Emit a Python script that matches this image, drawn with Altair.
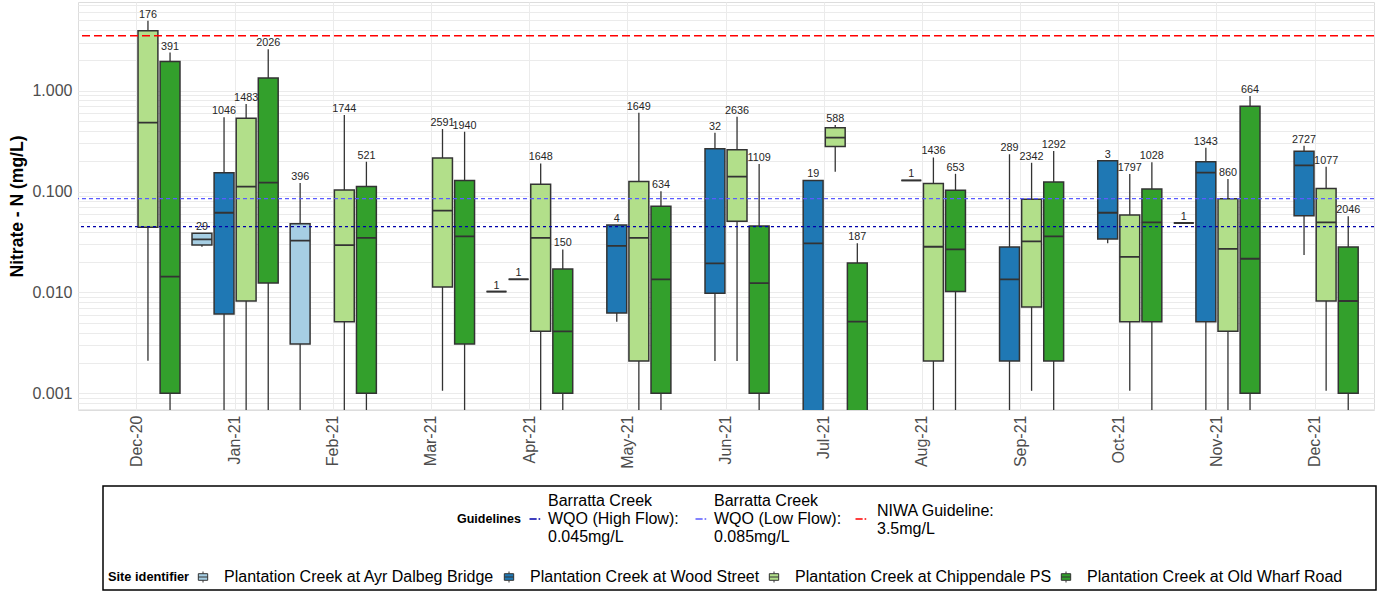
import altair as alt
import pandas as pd

# ---- categories -------------------------------------------------------------
months = ["Dec-20", "Jan-21", "Feb-21", "Mar-21", "Apr-21", "May-21", "Jun-21",
          "Jul-21", "Aug-21", "Sep-21", "Oct-21", "Nov-21", "Dec-21"]

site_codes = ["A", "W", "C", "O"]
site_names = ["Plantation Creek at Ayr Dalbeg Bridge",
              "Plantation Creek at Wood Street",
              "Plantation Creek at Chippendale PS",
              "Plantation Creek at Old Wharf Road"]
site_colours = ["#A6CEE3", "#1F78B4", "#B2DF8A", "#33A02C"]

# ---- box statistics per month and site (mg/L) --------------------------------
rec_month = ["Dec-20", "Dec-20",
             "Jan-21", "Jan-21", "Jan-21", "Jan-21",
             "Feb-21", "Feb-21", "Feb-21",
             "Mar-21", "Mar-21",
             "Apr-21", "Apr-21", "Apr-21", "Apr-21",
             "May-21", "May-21", "May-21",
             "Jun-21", "Jun-21", "Jun-21",
             "Jul-21", "Jul-21", "Jul-21",
             "Aug-21", "Aug-21", "Aug-21",
             "Sep-21", "Sep-21", "Sep-21",
             "Oct-21", "Oct-21", "Oct-21",
             "Nov-21", "Nov-21", "Nov-21", "Nov-21",
             "Dec-21", "Dec-21", "Dec-21"]
rec_site = ["C", "O",
            "A", "W", "C", "O",
            "A", "C", "O",
            "C", "O",
            "A", "W", "C", "O",
            "W", "C", "O",
            "W", "C", "O",
            "W", "C", "O",
            "W", "C", "O",
            "W", "C", "O",
            "W", "C", "O",
            "A", "W", "C", "O",
            "W", "C", "O"]
w_lo = [0.00211, 0.0005,
        0.0284, 0.0005, 0.0005, 0.0005,
        0.0005, 0.0005, 0.0005,
        0.00106, 0.0005,
        0.0102, 0.0135, 0.0005, 0.0005,
        0.00513, 0.0005, 0.0005,
        0.00209, 0.00209, 0.0005,
        0.0005, 0.157, 0.0005,
        0.129, 0.0005, 0.0005,
        0.0005, 0.00106, 0.0005,
        0.0307, 0.00106, 0.0005,
        0.0488, 0.0005, 0.0005, 0.0005,
        0.0235, 0.00106, 0.0005]
q1 = [0.0442, 0.001,
      0.0295, 0.00612, 0.00823, 0.0124,
      0.00308, 0.00513, 0.001,
      0.0113, 0.00308,
      0.0102, 0.0135, 0.00412, 0.001,
      0.00625, 0.00209, 0.001,
      0.0098, 0.0507, 0.001,
      0.0005, 0.279, 0.0005,
      0.129, 0.00209, 0.0102,
      0.00209, 0.00718, 0.00209,
      0.0339, 0.00513, 0.00513,
      0.0488, 0.00513, 0.00412, 0.001,
      0.0577, 0.00823, 0.001]
med = [0.482, 0.01435,
       0.0336, 0.0617, 0.112, 0.1225,
       0.0326, 0.0295, 0.0347,
       0.0647, 0.036,
       0.0102, 0.0135, 0.0347, 0.00412,
       0.0289, 0.0347, 0.0135,
       0.0194, 0.1405, 0.0124,
       0.0307, 0.342, 0.00513,
       0.129, 0.0284, 0.0268,
       0.0135, 0.0321, 0.036,
       0.0617, 0.0225, 0.0496,
       0.0488, 0.154, 0.027, 0.0216,
       0.182, 0.0496, 0.00823]
q3 = [3.93, 1.95,
      0.0386, 0.154, 0.532, 1.336,
      0.0481, 0.1037, 0.112,
      0.215, 0.129,
      0.0102, 0.0135, 0.118, 0.0171,
      0.0467, 0.126, 0.0714,
      0.266, 0.26, 0.0456,
      0.129, 0.43, 0.0196,
      0.129, 0.12, 0.1028,
      0.0282, 0.0838, 0.1244,
      0.202, 0.0586, 0.106,
      0.0488, 0.198, 0.085, 0.70,
      0.2505, 0.107, 0.0282]
w_hi = [4.94, 2.39,
        0.0386, 0.544, 0.738, 2.57,
        0.1216, 0.574, 0.198,
        0.417, 0.392,
        0.0102, 0.0135, 0.19, 0.0267,
        0.0467, 0.605, 0.101,
        0.383, 0.552, 0.1876,
        0.129, 0.457, 0.0307,
        0.129, 0.218, 0.150,
        0.234, 0.193, 0.252,
        0.202, 0.149, 0.195,
        0.0488, 0.272, 0.133, 0.885,
        0.285, 0.1766, 0.0569]
n_obs = [176, 391,
         29, 1046, 1483, 2026,
         396, 1744, 521,
         2591, 1940,
         1, 1, 1648, 150,
         4, 1649, 634,
         32, 2636, 1109,
         19, 588, 187,
         1, 1436, 653,
         289, 2342, 1292,
         3, 1797, 1028,
         1, 1343, 860, 664,
         2727, 1077, 2046]

# ---- guideline levels ----------------------------------------------------------
guide_names = ["Barratta Creek|WQO (High Flow):|0.045mg/L",
               "Barratta Creek|WQO (Low Flow):|0.085mg/L",
               "NIWA Guideline:|3.5mg/L"]
guide_values = [0.045, 0.085, 3.5]
guide_colours = ["#0000AA", "#5B5BFF", "#FF0000"]
guide_dashes = [[3, 3], [4, 3], [8, 4]]
guide_widths = [1.2, 1.2, 1.6]

# y-axis grid positions (labels shown on the decades only)
y_ticks = [0.0007, 0.0008, 0.0009,
           0.001, 0.002, 0.003, 0.004, 0.005, 0.006, 0.007, 0.008, 0.009,
           0.01, 0.02, 0.03, 0.04, 0.05, 0.06, 0.07, 0.08, 0.09,
           0.1, 0.2, 0.3, 0.4, 0.5, 0.6, 0.7, 0.8, 0.9,
           1, 2, 3, 4, 5, 6, 7]
y_domain = [0.000684, 7.57]

FONT = "Liberation Sans"
code_to_name = dict(zip(site_codes, site_names))

boxes = pd.DataFrame({
    "month": rec_month,
    "site": [code_to_name[c] for c in rec_site],
    "lo": w_lo, "q1": q1, "med": med, "q3": q3, "hi": w_hi, "n": n_obs,
})

y_scale = alt.Scale(type="log", domain=y_domain)
y_axis = alt.Axis(
    values=y_ticks,
    labelExpr="abs(log(datum.value)/LN10 - round(log(datum.value)/LN10)) < 1e-6 ? format(datum.value, '.3f') : ''",
    labelOverlap=False, labelFlush=False,
    grid=True, gridColor="#EBEBEB", gridWidth=1,
    domain=False, ticks=False,
    labelFontSize=16, labelColor="#4D4D4D", labelFont=FONT, labelPadding=6,
    titleFontSize=17.5, titleFontWeight="bold", titleColor="black", titleFont=FONT,
    titlePadding=5,
)
Y_TITLE = "Nitrate - N (mg/L)"


def y_enc(field):
    return alt.Y(field, type="quantitative", scale=y_scale, axis=y_axis, title=Y_TITLE)


x_enc = alt.X(
    "month:N", sort=months,
    scale=alt.Scale(domain=months, paddingInner=0, paddingOuter=0.1),
    axis=alt.Axis(
        title="", labelAngle=270, labelFontSize=16, labelColor="#4D4D4D",
        labelFont=FONT, labelPadding=5, domain=False, ticks=False,
        grid=True, gridColor="#EBEBEB", gridWidth=1, bandPosition=0.5,
    ),
)
xo_enc = alt.XOffset(
    "site:N",
    scale=alt.Scale(domain=site_names, paddingInner=0.1, paddingOuter=0.272),
)

# legend key shapes (unit square scaled by sqrt(symbolSize)/2)
box_symbol = "M0,-1V-0.6M-0.85,-0.6H0.85V0.6H-0.85ZM-0.85,0H0.85M0,0.6V1"
# dash-dot key, dropped onto the middle line of a three-line label
dashdot_3line = "M-1,3.27H0.3M0.65,3.27H0.95"
# dash-dot key, between the two lines of a two-line label
dashdot_2line = "M-1,1.45H0.3M0.65,1.45H0.95"

site_legend = alt.Legend(
    title="Site identifier", orient="none", legendX=30, legendY=567,
    direction="horizontal", titleOrient="left", titleAnchor="middle",
    titleBaseline="middle",
    titleFont=FONT, titleFontSize=12.8, titleFontWeight="bold", titleColor="black",
    titlePadding=5,
    labelFont=FONT, labelFontSize=16, labelColor="black", labelLimit=0,
    labelOffset=13, columnPadding=6,
    symbolType=box_symbol, symbolSize=121, symbolStrokeColor="#333333",
    symbolStrokeWidth=1,
)

wqo_legend = alt.Legend(
    title="Guidelines", orient="none", legendX=379, legendY=491,
    direction="horizontal", titleOrient="left", titleAnchor="middle",
    titleBaseline="middle",
    titleFont=FONT, titleFontSize=12.5, titleFontWeight="bold", titleColor="black",
    titlePadding=6,
    labelFont=FONT, labelFontSize=16, labelColor="black", labelLimit=0,
    labelExpr="split(datum.label, '|')",
    labelOffset=5, columnPadding=13,
    symbolType=dashdot_3line, symbolSize=121, symbolStrokeWidth=1.5,
    symbolFillColor="transparent", symbolDash=[100, 0],
)

niwa_legend = alt.Legend(
    title="", orient="none", legendX=775, legendY=501,
    direction="horizontal",
    labelFont=FONT, labelFontSize=16, labelColor="black", labelLimit=0,
    labelExpr="split(datum.label, '|')",
    labelOffset=8,
    symbolType=dashdot_2line, symbolSize=121, symbolStrokeWidth=1.5,
    symbolFillColor="transparent", symbolDash=[100, 0],
)

base = alt.Chart(boxes)

whiskers = base.mark_rule(color="#333333", strokeWidth=1.3, clip=True).encode(
    x=x_enc, xOffset=xo_enc, y=y_enc("lo"), y2=alt.Y2("hi"),
)

box_body = base.mark_bar(stroke="#333333", strokeWidth=1.5, clip=True).encode(
    x=x_enc, xOffset=xo_enc, y=y_enc("q1"), y2=alt.Y2("q3"),
    fill=alt.Fill("site:N", scale=alt.Scale(domain=site_names, range=site_colours),
                  legend=site_legend),
)

medians = base.mark_bar(fill="transparent", stroke="#333333", strokeWidth=1.8,
                        clip=True).encode(
    x=x_enc, xOffset=xo_enc, y=y_enc("med"), y2=alt.Y2("med"),
)

counts = base.mark_text(font=FONT, fontSize=10.8, color="#262626",
                        baseline="middle", dy=-6).encode(
    x=x_enc, xOffset=xo_enc, y=y_enc("hi"), text="n:Q",
)

# water-quality objectives (blue) share one legend
wqo_scale = alt.Scale(domain=guide_names[:2], range=guide_colours[:2])
guide_layers = []
for name, value, dash, width in zip(guide_names[:2], guide_values[:2],
                                    guide_dashes[:2], guide_widths[:2]):
    guide_layers.append(
        alt.Chart(pd.DataFrame({"guideline": [name], "value": [value]}))
        .mark_rule(strokeDash=dash, strokeWidth=width)
        .encode(
            y=y_enc("value"),
            stroke=alt.Stroke("guideline:N", scale=wqo_scale, legend=wqo_legend),
        )
    )

# NIWA guideline (red)
niwa_rule = alt.Chart(
    pd.DataFrame({"niwa": [guide_names[2]], "value": [guide_values[2]]})
).mark_rule(strokeDash=guide_dashes[2], strokeWidth=guide_widths[2]).encode(
    y=y_enc("value"),
    color=alt.Color("niwa:N", scale=alt.Scale(domain=[guide_names[2]],
                                             range=[guide_colours[2]]),
                    legend=niwa_legend),
)

legend_frame = alt.Chart(pd.DataFrame({"k": [0]})).mark_rect(
    fill="transparent", stroke="black", strokeWidth=1.5
).encode(
    x=alt.value(25), x2=alt.value(1298), y=alt.value(484), y2=alt.value(588),
)

chart = alt.layer(
    whiskers, box_body, medians, *guide_layers, niwa_rule, counts, legend_frame
).properties(
    width=1296, height=408,
    autosize="none",
    padding={"left": 78, "top": 2, "right": 4, "bottom": 182},
    background="white",
).configure_view(strokeWidth=0).configure(font=FONT)

chart.save("out.html", embed_options={"renderer": "svg", "actions": False})
